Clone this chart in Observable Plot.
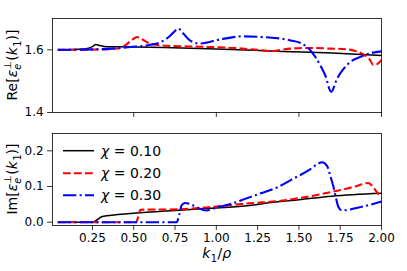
<!DOCTYPE html>
<html><head><meta charset="utf-8">
<script src="https://cdn.jsdelivr.net/npm/d3@7"></script>
<script src="https://cdn.jsdelivr.net/npm/@observablehq/plot@0.6"></script>
<style>
body{margin:0;background:#fff;}
#c{position:relative;width:407px;height:271px;font-family:"DejaVu Sans";}
#c svg{position:absolute;left:0;overflow:visible;}
</style>
</head><body><div id="c"></div>
<script>
// ---- data ----
const chiValues = ["0.10", "0.20", "0.30"];
const seriesColors = ["black", "#ff0000", "#0000ff"];

const xTicksTop = [0.5, 1.0, 1.5, 2.0];
const xTicksBottom = [0.25, 0.5, 0.75, 1.0, 1.25, 1.5, 1.75, 2.0];
const yTicksTop = [1.4, 1.6];
const yTicksBottom = [0.0, 0.1, 0.2];

// Re part
const reK_010 = [0.04, 0.2, 0.25, 0.27, 0.29, 0.32, 0.4, 0.6, 1.0, 1.4, 1.7, 2.0];
const reV_010 = [1.600, 1.603, 1.610, 1.617, 1.614, 1.611, 1.610, 1.608, 1.603, 1.595, 1.590, 1.582];
const reK_020 = [0.04, 0.3, 0.4, 0.45, 0.49, 0.52, 0.55, 0.6, 0.7, 0.9, 1.1, 1.25, 1.33, 1.45, 1.57, 1.69, 1.78, 1.85, 1.9, 1.93, 1.95, 1.975, 2.0];
const reV_020 = [1.600, 1.601, 1.604, 1.615, 1.632, 1.641, 1.634, 1.620, 1.613, 1.610, 1.606, 1.600, 1.596, 1.604, 1.606, 1.604, 1.602, 1.595, 1.582, 1.568, 1.552, 1.555, 1.568];
const reK_030 = [0.04, 0.3, 0.48, 0.6, 0.66, 0.71, 0.74, 0.77, 0.80, 0.84, 0.9, 1.02, 1.16, 1.3, 1.39, 1.45, 1.51, 1.57, 1.63, 1.66, 1.695, 1.73, 1.77, 1.81, 1.87, 1.94, 2.0];
const reV_030 = [1.600, 1.602, 1.609, 1.616, 1.624, 1.640, 1.655, 1.668, 1.652, 1.630, 1.620, 1.633, 1.643, 1.640, 1.636, 1.630, 1.622, 1.598, 1.550, 1.518, 1.466, 1.507, 1.539, 1.561, 1.577, 1.590, 1.595];

// Im part
const imK_010 = [0.04, 0.25, 0.265, 0.31, 0.5, 0.75, 1.0, 1.2, 1.33, 1.5, 1.7, 2.0];
const imV_010 = [0, 0, 0.003, 0.016, 0.025, 0.033, 0.040, 0.047, 0.055, 0.063, 0.073, 0.081];
const imK_020 = [0.04, 0.515, 0.525, 0.54, 0.77, 0.95, 1.2, 1.39, 1.51, 1.69, 1.84, 1.92, 1.95, 1.98, 2.0];
const imV_020 = [0, 0, 0.012, 0.035, 0.036, 0.042, 0.053, 0.060, 0.068, 0.084, 0.100, 0.110, 0.098, 0.080, 0.075];
const imK_030 = [0.04, 0.76, 0.775, 0.79, 0.81, 0.86, 0.91, 0.94, 1.0, 1.1, 1.16, 1.25, 1.37, 1.45, 1.57, 1.62, 1.64, 1.67, 1.69, 1.71, 1.74, 1.76, 1.85, 2.0];
const imV_030 = [0, 0, 0.02, 0.048, 0.054, 0.047, 0.036, 0.033, 0.041, 0.053, 0.063, 0.078, 0.098, 0.118, 0.149, 0.165, 0.168, 0.158, 0.130, 0.098, 0.042, 0.033, 0.040, 0.058];

// ---- build tables ----
function table(ks, vs, chi) { return ks.map((k, i) => ({k, v: vs[i], chi})); }
const reData = [table(reK_010, reV_010, chiValues[0]), table(reK_020, reV_020, chiValues[1]), table(reK_030, reV_030, chiValues[2])];
const imData = [table(imK_010, imV_010, chiValues[0]), table(imK_020, imV_020, chiValues[1]), table(imK_030, imV_030, chiValues[2])];

const styles = [
  {stroke: seriesColors[0], strokeWidth: 1.5, strokeDasharray: null},
  {stroke: seriesColors[1], strokeWidth: 2.1, strokeDasharray: "7.7,3.3"},
  {stroke: seriesColors[2], strokeWidth: 2.1, strokeDasharray: "13.3,3.3,2.1,3.3"}
];

const xDomain = [0.008, 2.0];
const baseStyle = {fontFamily: "DejaVu Sans", fontSize: "12px", color: "black", background: "transparent", overflow: "visible"};

function lines(data) {
  return data.map((d, i) => Plot.line(d, {x: "k", y: "v", curve: "monotone-x",
    stroke: styles[i].stroke, strokeWidth: styles[i].strokeWidth,
    strokeDasharray: styles[i].strokeDasharray, strokeLinejoin: "round", strokeLinecap: "butt"}));
}

const topPlot = Plot.plot({
  width: 407, height: 125,
  marginLeft: 52, marginRight: 26, marginTop: 18, marginBottom: 13,
  style: baseStyle,
  x: {domain: xDomain},
  y: {domain: [1.4, 1.7]},
  marks: [
    ...lines(reData),
    Plot.axisY({ticks: yTicksTop, tickFormat: d => d.toFixed(1), tickSize: 4.9, tickPadding: 4, label: null, strokeWidth: 0.8}),
    Plot.axisX({ticks: xTicksTop, tickFormat: () => "", tickSize: 4.9, label: null, strokeWidth: 0.8}),
    Plot.frame({stroke: "black", strokeWidth: 0.8})
  ]
});

const bottomPlot = Plot.plot({
  width: 407, height: 146,
  marginLeft: 52, marginRight: 26, marginTop: 8, marginBottom: 46,
  style: baseStyle,
  x: {domain: xDomain},
  y: {domain: [-0.0092, 0.2486]},
  marks: [
    ...lines(imData),
    Plot.axisY({ticks: yTicksBottom, tickFormat: d => d.toFixed(1), tickSize: 4.9, tickPadding: 4, label: null, strokeWidth: 0.8}),
    Plot.axisX({ticks: xTicksBottom, tickFormat: d => d.toFixed(2), tickSize: 4.9, tickPadding: 3.5, label: null, strokeWidth: 0.8}),
    Plot.frame({stroke: "black", strokeWidth: 0.8})
  ]
});

const c = document.getElementById("c");
topPlot.style.top = "0px";
bottomPlot.style.top = "125px";
c.appendChild(topPlot);
c.appendChild(bottomPlot);

// math-like text helper
function mathText(svg, x, y, rotate, size, parts) {
  const t = d3.select(svg).append("text")
    .attr("transform", `translate(${x},${y}) rotate(${rotate})`)
    .attr("text-anchor", "middle")
    .attr("font-family", "DejaVu Sans")
    .attr("font-size", size)
    .attr("fill", "black");
  let cur = 0;
  for (const p of parts) {
    const off = p.shift === "sub" ? size * 0.25 : p.shift === "sup" ? -size * 0.42 : 0;
    const s = t.append("tspan").text(p.t)
      .attr("font-size", p.shift ? size * 0.7 : size)
      .attr("dy", off - cur);
    if (p.it) s.attr("font-style", "italic");
    if (p.dx) s.attr("dx", p.dx);
    cur = off;
  }
  return t;
}

const LS = 14;
function epsParts(prefix) {
  return [
    {t: prefix + "["},
    {t: "ε", it: true},
    {t: "e", it: true, shift: "sub"},
    {t: "⊥", shift: "sup", dx: -6},
    {t: "(", dx: 0.5},
    {t: "k", it: true},
    {t: "1", shift: "sub", dx: 0.5},
    {t: ")]"}
  ];
}
mathText(topPlot, 17, 65, -90, LS, epsParts("Re"));
mathText(bottomPlot, 17, 54, -90, LS, epsParts("Im"));
mathText(bottomPlot, 216.7, 133, 0, LS, [
  {t: "k", it: true}, {t: "1", shift: "sub", dx: 0.5}, {t: "/", dx: 0.5}, {t: "ρ", it: true}
]);

// legend (inside bottom panel, upper left)
const lg = d3.select(bottomPlot).append("g").attr("text-anchor", "start");
const legendRows = [25.7, 48.3, 70.3];
chiValues.forEach((v, i) => {
  const y = legendRows[i];
  lg.append("line").attr("x1", 63).attr("x2", 94).attr("y1", y).attr("y2", y)
    .attr("stroke", styles[i].stroke).attr("stroke-width", styles[i].strokeWidth)
    .attr("stroke-dasharray", styles[i].strokeDasharray);
  const t = lg.append("text").attr("x", 101).attr("y", y + 5)
    .attr("text-anchor", "start")
    .attr("font-family", "DejaVu Sans").attr("font-size", LS).attr("fill", "black");
  t.append("tspan").attr("font-style", "italic").text("χ");
  t.append("tspan").text("\u2009=\u20090.".slice(0, 0) + " = " + v);
});
</script>
</body></html>
